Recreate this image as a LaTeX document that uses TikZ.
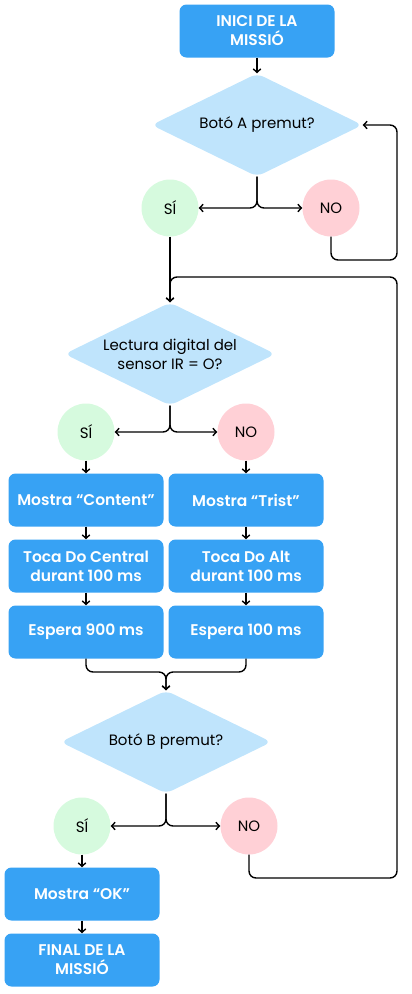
\documentclass[tikz,border=0pt]{standalone}
\usepackage{fontspec}
\setmainfont{Poppins}[BoldFont={Poppins SemiBold}]
\usetikzlibrary{shapes.geometric,arrows.meta}

\definecolor{boxblue}{HTML}{37A2F4}
\definecolor{decblue}{HTML}{BFE4FC}
\definecolor{yesgreen}{HTML}{D6FADE}
\definecolor{nopink}{HTML}{FFD0D6}

\begin{document}
\begin{tikzpicture}[x=1pt, y=-1pt,
    box/.style={rectangle, fill=boxblue, rounded corners=7pt, minimum width=155pt, minimum height=53pt, text=white, align=center, font=\bfseries\fontsize{15.5}{19}\selectfont},
    decision/.style={diamond, shape aspect=2.05, fill=decblue, rounded corners=7pt, minimum width=211pt, minimum height=103pt, inner sep=0pt, align=center, font=\fontsize{15}{19}\selectfont},
    yes/.style={circle, fill=yesgreen, minimum size=57pt, inner sep=0pt, font=\fontsize{15}{16}\selectfont},
    no/.style={circle, fill=nopink, minimum size=57pt, inner sep=0pt, font=\fontsize{15}{16}\selectfont},
    line/.style={draw, line width=1.4pt, rounded corners=7pt, -{Straight Barb[length=3.5pt,width=7.5pt]}}]
    \useasboundingbox (0,0) rectangle (412,994);

    \node[box] (start) at (257,31) {INICI DE LA\\MISSIÓ};
    \node[decision] (dec1) at (257,125) {Botó A premut?};
    \node[yes] (yes1) at (170,208) {SÍ};
    \node[no] (no1) at (331,208) {NO};

    \node[decision] (dec2) at (170,354) {Lectura digital del\\sensor IR = O?};
    \node[yes] (yes2) at (86,432) {SÍ};
    \node[no] (no2) at (246,432) {NO};

    \node[box] (show1) at (86,500) {Mostra “Content”};
    \node[box] (tone1) at (86,566) {Toca Do Central\\durant 100 ms};
    \node[box] (wait1) at (86,632) {Espera 900 ms};
    \node[box] (show2) at (246,500) {Mostra “Trist”};
    \node[box] (tone2) at (246,566) {Toca Do Alt\\durant 100 ms};
    \node[box] (wait2) at (246,632) {Espera 100 ms};

    \node[decision] (dec3) at (166,742) {Botó B premut?};
    \node[yes] (yes3) at (82,826) {SÍ};
    \node[no] (no3) at (249,826) {NO};

    \node[box] (showok) at (82,894) {Mostra “OK”};
    \node[box] (final) at (82,960) {FINAL DE LA\\MISSIÓ};

    \coordinate (loop1) at (397,260);
    \coordinate (loop2) at (397,878);
    \coordinate (rejoin) at (170,277);
    \coordinate (merge) at (166,672);

    \draw[line] (start) -- (dec1);
    \draw[line] (dec1.south) |- (yes1);
    \draw[line] (dec1.south) |- (no1);
    \draw[line] (no1.south) |- (loop1) |- (dec1.east);
    \draw[line] (yes1) -- (dec2.north);

    \draw[line] (dec2.south) |- (yes2);
    \draw[line] (dec2.south) |- (no2);
    \draw[line] (yes2) -- (show1);
    \draw[line] (no2) -- (show2);
    \draw[line] (show1) -- (tone1);
    \draw[line] (tone1) -- (wait1);
    \draw[line] (show2) -- (tone2);
    \draw[line] (tone2) -- (wait2);
    \draw[line] (wait1.south) |- (merge) -- (dec3.north);
    \draw[line] (wait2.south) |- (merge) -- (dec3.north);

    \draw[line] (dec3.south) |- (yes3);
    \draw[line] (dec3.south) |- (no3);
    \draw[line] (no3.south) |- (loop2) |- (rejoin) -- (dec2.north);
    \draw[line] (yes3) -- (showok);
    \draw[line] (showok) -- (final);
\end{tikzpicture}
\end{document}
